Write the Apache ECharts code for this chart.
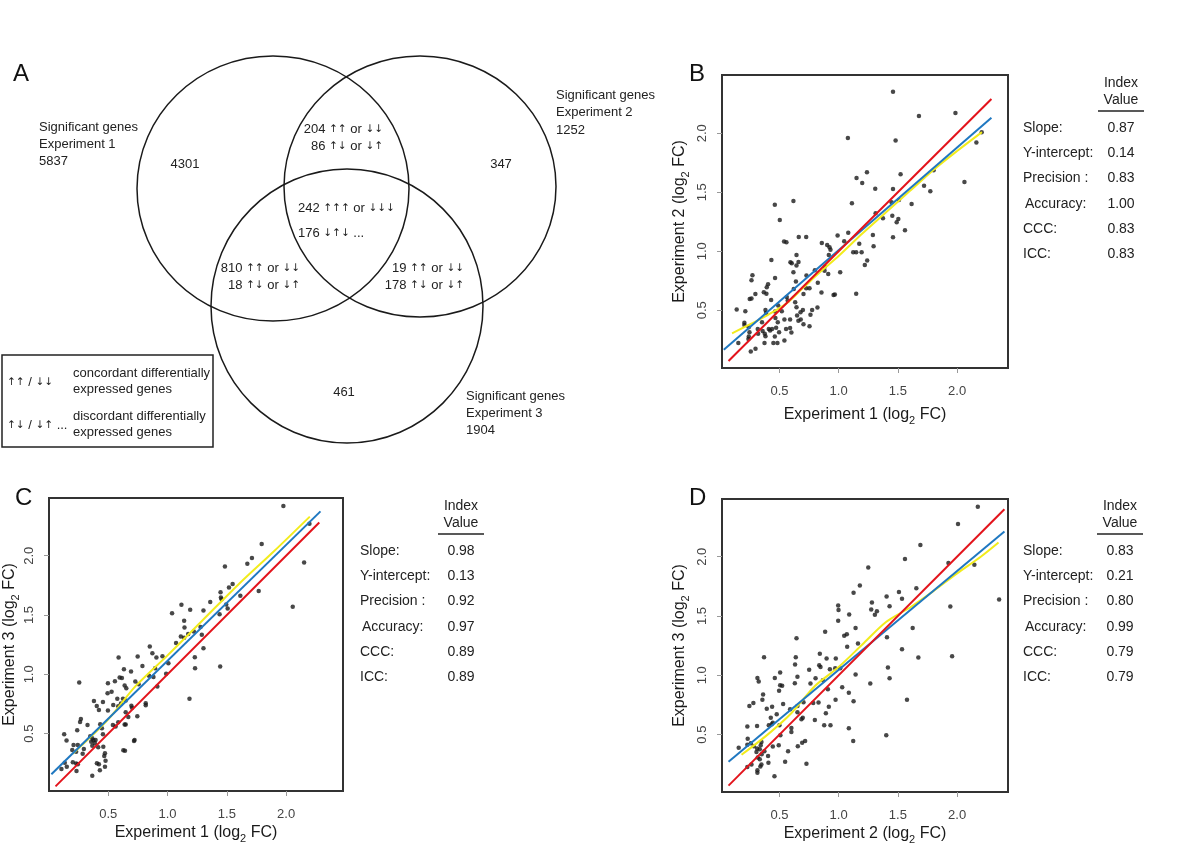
<!DOCTYPE html>
<html><head><meta charset="utf-8">
<script src="https://cdn.jsdelivr.net/npm/echarts@6/dist/echarts.min.js"></script>
<style>html,body{margin:0;padding:0;background:#fff}#c{width:1200px;height:849px}</style>
</head><body><div id="c"></div>
<script>
// ---------------- Panel A (Venn) ----------------
const vennCircles = [ // cx, cy, rx, ry (diagram units)
  [273, 188.5, 136, 132.5],
  [420, 186.5, 136, 130.5],
  [347, 306, 136, 137]
];
const vennLabels = [ // x, y, text, align
  [39,127,'Significant genes','left'],[39,144,'Experiment 1','left'],[39,161,'5837','left'],
  [556,95,'Significant genes','left'],[556,112,'Experiment 2','left'],[556,130,'1252','left'],
  [466,396,'Significant genes','left'],[466,413,'Experiment 3','left'],[466,430,'1904','left'],
  [185,164,'4301','center'],[501,164,'347','center'],[344,392,'461','center'],
  [383,129,'204 ↑↑ or ↓↓','right'],[383,146,'86 ↑↓ or ↓↑','right'],
  [298,208,'242 ↑↑↑ or ↓↓↓','left'],[298,233,'176 ↓↑↓ ...','left'],
  [300,268,'810 ↑↑ or ↓↓','right'],[300,285,'18 ↑↓ or ↓↑','right'],
  [464,268,'19 ↑↑ or ↓↓','right'],[464,285,'178 ↑↓ or ↓↑','right']
];
const legendSymbols = ['↑↑ / ↓↓', '↑↓ / ↓↑ ...'];
const legendTexts = [['concordant differentially','expressed genes'],['discordant differentially','expressed genes']];

// ---------------- Scatter panels ----------------
const tickValues = [0.5, 1.0, 1.5, 2.0];
const indexNames = ['Slope:', 'Y-intercept:', 'Precision :', 'Accuracy:', 'CCC:', 'ICC:'];
const valuesB = ['0.87','0.14','0.83','1.00','0.83','0.83'];
const valuesC = ['0.98','0.13','0.92','0.97','0.89','0.89'];
const valuesD = ['0.83','0.21','0.80','0.99','0.79','0.79'];

const pointsB = [
[1.459,2.353],[1.678,2.147],[1.986,2.172],[1.078,1.960],[1.481,1.938],[2.163,1.921],[2.208,2.008],
[1.802,1.686],[2.062,1.588],[1.151,1.621],[1.239,1.669],[1.199,1.579],[1.523,1.653],[1.309,1.531],
[1.459,1.528],[1.721,1.556],[1.774,1.508],[1.509,1.435],[1.447,1.415],[1.112,1.407],[1.616,1.401],
[0.461,1.395],[0.618,1.427],[0.503,1.266],[1.312,1.322],[1.374,1.280],[1.453,1.302],[1.504,1.274],
[1.490,1.246],[1.560,1.178],[1.289,1.138],[1.459,1.119],[1.295,1.042],[1.081,1.158],[0.991,1.133],
[1.047,1.085],[1.174,1.065],[1.123,0.992],[1.148,0.992],[1.194,0.992],[1.241,0.921],[1.221,0.884],
[1.013,0.822],[1.148,0.641],[0.539,1.082],[0.559,1.076],[0.663,1.121],[0.726,1.121],[0.858,1.071],
[0.903,1.054],[0.923,1.034],[0.931,1.014],[0.917,0.969],[0.883,0.870],[0.881,0.836],[0.912,0.808],
[0.799,0.839],[0.644,0.969],[0.593,0.907],[0.604,0.898],[0.661,0.910],[0.644,0.879],[0.618,0.822],
[0.728,0.794],[0.639,0.743],[0.432,0.927],[0.463,0.774],[0.404,0.720],[0.393,0.695],[0.368,0.653],
[0.390,0.641],[0.272,0.797],[0.264,0.754],[0.297,0.638],[0.249,0.596],[0.264,0.599],[0.430,0.588],
[0.562,0.613],[0.621,0.681],[0.703,0.638],[0.726,0.686],[0.754,0.686],[0.824,0.734],[0.855,0.650],
[0.957,0.630],[0.968,0.633],[0.633,0.568],[0.570,0.582],[0.139,0.506],[0.212,0.492],[0.489,0.540],
[0.520,0.492],[0.463,0.489],[0.387,0.477],[0.644,0.525],[0.698,0.503],[0.776,0.503],[0.821,0.523],
[0.204,0.395],[0.204,0.376],[0.241,0.356],[0.247,0.314],[0.241,0.277],[0.238,0.257],[0.153,0.223],
[0.258,0.150],[0.298,0.175],[0.320,0.302],[0.353,0.398],[0.358,0.325],[0.376,0.302],[0.382,0.280],
[0.374,0.223],[0.410,0.342],[0.421,0.328],[0.438,0.342],[0.461,0.277],[0.449,0.223],[0.483,0.223],
[0.472,0.353],[0.486,0.398],[0.497,0.314],[0.466,0.435],[0.542,0.421],[0.542,0.243],[0.556,0.342],
[0.590,0.421],[0.590,0.350],[0.601,0.311],[0.649,0.455],[0.660,0.412],[0.680,0.421],[0.703,0.381],
[0.754,0.364],[0.762,0.463],[0.678,0.483],[0.382,0.503],[0.317,0.342]
];
const identityB = [[0.07,0.07],[2.29,2.29]];
const regressionB = [[0.03,0.166],[2.29,2.132]];
const smoothB = [[0.10,0.305],[0.25,0.38],[0.40,0.46],[0.55,0.55],[0.70,0.69],[0.85,0.83],[1.0,0.96],
  [1.2,1.15],[1.4,1.33],[1.6,1.51],[1.8,1.69],[2.0,1.85],[2.21,2.01]];

const pointsC = [
[1.977,2.419],[2.197,2.270],[2.152,1.944],[2.056,1.569],[1.794,2.099],[1.712,1.980],[1.673,1.932],
[1.484,1.910],[1.549,1.761],[1.518,1.733],[1.447,1.693],[1.450,1.648],[1.456,1.634],[1.614,1.662],
[1.769,1.702],[1.495,1.589],[1.507,1.555],[1.439,1.507],[1.191,1.544],[1.303,1.538],[1.360,1.609],
[1.117,1.586],[1.038,1.516],[1.140,1.451],[1.143,1.395],[1.112,1.319],[1.140,1.308],[1.174,1.339],
[1.222,1.361],[1.278,1.400],[1.289,1.333],[1.303,1.220],[1.072,1.265],[1.185,0.793],[1.230,1.144],
[1.232,1.052],[1.444,1.066],[1.007,1.094],[0.988,1.004],[0.957,1.153],[0.906,1.142],[0.872,1.178],
[0.850,1.234],[0.788,1.071],[0.914,0.897],[0.881,0.978],[0.895,1.052],[0.844,0.987],[0.748,1.150],
[0.587,1.142],[0.632,1.043],[0.692,1.023],[0.596,0.973],[0.615,0.970],[0.556,0.942],[0.497,0.925],
[0.638,0.905],[0.652,0.883],[0.728,0.939],[0.756,0.916],[0.494,0.840],[0.528,0.854],[0.576,0.793],
[0.624,0.793],[0.647,0.779],[0.542,0.742],[0.584,0.731],[0.607,0.753],[0.695,0.736],[0.700,0.719],
[0.816,0.756],[0.816,0.739],[0.745,0.646],[0.647,0.680],[0.669,0.641],[0.638,0.576],[0.647,0.576],
[0.379,0.776],[0.403,0.733],[0.421,0.700],[0.455,0.767],[0.497,0.694],[0.539,0.573],[0.562,0.559],
[0.584,0.596],[0.255,0.930],[0.269,0.624],[0.262,0.598],[0.238,0.528],[0.325,0.573],[0.432,0.579],
[0.446,0.545],[0.455,0.494],[0.348,0.477],[0.365,0.460],[0.374,0.444],[0.393,0.446],[0.356,0.432],
[0.387,0.418],[0.458,0.390],[0.415,0.384],[0.365,0.398],[0.128,0.494],[0.148,0.441],[0.207,0.404],
[0.243,0.404],[0.196,0.362],[0.294,0.370],[0.229,0.348],[0.284,0.331],[0.133,0.255],[0.105,0.202],
[0.150,0.221],[0.201,0.258],[0.229,0.247],[0.243,0.241],[0.232,0.185],[0.365,0.145],[0.404,0.249],
[0.421,0.241],[0.429,0.190],[0.472,0.334],[0.466,0.311],[0.477,0.272],[0.472,0.221],[0.717,0.438],
[0.722,0.446],[0.627,0.359],[0.641,0.356]
];
const identityC = [[0.055,0.055],[2.28,2.28]];
const regressionC = [[0.02,0.157],[2.29,2.374]];
const smoothC = [[0.20,0.33],[0.5,0.62],[0.73,0.90],[1.0,1.16],[1.3,1.46],[1.6,1.76],[1.9,2.04],[2.2,2.33]];

const pointsD = [
[2.175,2.422],[2.008,2.276],[1.690,2.099],[1.560,1.980],[1.250,1.910],[1.927,1.947],[2.146,1.932],
[1.179,1.758],[1.126,1.696],[1.656,1.735],[1.509,1.702],[1.405,1.665],[1.535,1.645],[1.430,1.583],
[1.281,1.614],[1.275,1.555],[1.323,1.541],[1.306,1.510],[0.996,1.589],[0.999,1.550],[1.089,1.513],
[0.996,1.460],[1.943,1.581],[2.355,1.640],[0.886,1.367],[1.143,1.400],[1.047,1.333],[1.069,1.347],
[1.625,1.400],[1.408,1.322],[0.644,1.313],[1.163,1.268],[1.072,1.240],[1.535,1.220],[1.958,1.161],
[1.673,1.150],[0.370,1.153],[0.638,1.153],[0.632,1.091],[0.841,1.181],[0.898,1.142],[0.976,1.142],
[0.751,1.046],[0.836,1.085],[0.847,1.071],[0.926,1.052],[0.971,1.060],[1.013,1.060],[1.416,1.066],
[1.143,1.006],[1.430,0.976],[0.652,0.987],[0.314,0.978],[0.325,0.947],[0.461,0.978],[0.506,1.023],
[0.805,0.976],[0.867,0.959],[0.762,0.930],[0.630,0.933],[0.506,0.916],[0.523,0.911],[0.497,0.869],
[1.030,0.900],[1.086,0.852],[1.267,0.930],[0.909,0.883],[0.974,0.793],[1.126,0.781],[1.577,0.793],
[0.362,0.838],[0.356,0.793],[0.246,0.742],[0.280,0.767],[0.393,0.719],[0.438,0.736],[0.531,0.759],
[0.652,0.742],[0.703,0.773],[0.785,0.767],[0.830,0.770],[0.917,0.736],[0.652,0.688],[0.477,0.672],
[0.427,0.643],[0.697,0.643],[0.686,0.629],[0.799,0.624],[0.892,0.680],[0.931,0.579],[0.878,0.579],
[0.590,0.714],[0.410,0.579],[0.435,0.587],[0.444,0.601],[0.500,0.579],[0.601,0.556],[0.601,0.522],
[0.508,0.494],[0.311,0.573],[0.229,0.568],[0.232,0.466],[0.156,0.390],[0.229,0.415],[0.258,0.427],
[0.283,0.401],[0.311,0.382],[0.348,0.438],[0.342,0.410],[0.334,0.376],[0.306,0.354],[0.373,0.359],
[0.350,0.334],[0.317,0.306],[0.334,0.292],[0.404,0.320],[0.407,0.263],[0.444,0.399],[0.494,0.410],
[0.655,0.401],[0.573,0.359],[0.692,0.432],[0.717,0.446],[0.548,0.272],[0.229,0.227],[0.264,0.247],
[0.314,0.199],[0.314,0.179],[0.339,0.230],[0.348,0.247],[0.458,0.148],[0.728,0.255],[1.086,0.553],
[1.123,0.446],[1.402,0.494]
];
const identityD = [[0.07,0.07],[2.40,2.40]];
const regressionD = [[0.07,0.271],[2.40,2.213]];
const smoothD = [[0.18,0.33],[0.4,0.50],[0.6,0.68],[0.8,0.91],[1.0,1.07],[1.2,1.26],[1.4,1.45],
  [1.6,1.57],[1.8,1.71],[2.0,1.86],[2.2,2.0],[2.35,2.12]];

const xTitles = ['Experiment 1', 'Experiment 1', 'Experiment 2'];
const yTitles = ['Experiment 2', 'Experiment 3', 'Experiment 3'];

// ---------------- layout ----------------
const FONT = '"Liberation Sans", Arial, Helvetica, sans-serif';
const ARROW_RICH = {r:{fontFamily:'"DejaVu Sans", sans-serif', fontSize:10.5, fill:'#222', color:'#222'}};
function withArrows(t){ return t.replace(/[↑↓]+/g, m => '{r|' + m + '}'); }

const panels = [
  {grid:{left:722, top:75, width:286, height:293}, x:[0.015,2.43], y:[0.011,2.494], xGap:36, yGap:31,
   pts:pointsB, id:identityB, rg:regressionB, sm:smoothB, vals:valuesB, tx:1023, tv:1121, ty:83, letter:['B',689,74]},
  {grid:{left:49, top:498, width:294, height:293}, x:[0.0,2.48], y:[0.016,2.487], xGap:31, yGap:28,
   pts:pointsC, id:identityC, rg:regressionC, sm:smoothC, vals:valuesC, tx:360, tv:461, ty:506, letter:['C',15,498]},
  {grid:{left:722, top:499, width:286, height:293}, x:[0.015,2.43], y:[0.016,2.487], xGap:31, yGap:31,
   pts:pointsD, id:identityD, rg:regressionD, sm:smoothD, vals:valuesD, tx:1023, tv:1120, ty:506, letter:['D',689,498]}
];

const grids = [{left:0, top:0, width:1200, height:849, show:false}];
const xAxes = [{type:'value', gridIndex:0, min:0, max:1200, show:false}];
const yAxes = [{type:'value', gridIndex:0, min:0, max:849, inverse:true, show:false}];
const series = [];
const graphics = [];

function richTitle(t){ return '{a|' + t + ' (log}{s|2}{a| FC)}'; }
const richStyle = {
  a:{fontSize:16, fontFamily:FONT, color:'#1a1a1a', lineHeight:22},
  s:{fontSize:11, fontFamily:FONT, color:'#1a1a1a', lineHeight:22, verticalAlign:'bottom'}
};

panels.forEach((p, i) => {
  const gi = i + 1;
  grids.push(Object.assign({show:true, borderColor:'#333', borderWidth:2, backgroundColor:'#fff'}, p.grid));
  const common = {
    type:'value', gridIndex:gi, axisLine:{show:false}, splitLine:{show:false},
    axisTick:{show:true, customValues:tickValues, length:5, lineStyle:{color:'#999', width:1}},
    nameLocation:'middle'
  };
  xAxes.push(Object.assign({}, common, {
    min:p.x[0], max:p.x[1],
    axisLabel:{customValues:tickValues, formatter:v=>v.toFixed(1), color:'#444', fontSize:13, fontFamily:FONT, margin:17},
    name:richTitle(xTitles[i]), nameGap:p.xGap, nameTextStyle:{rich:richStyle}
  }));
  yAxes.push(Object.assign({}, common, {
    min:p.y[0], max:p.y[1],
    axisLabel:{customValues:tickValues, formatter:v=>v.toFixed(1), color:'#444', fontSize:13, fontFamily:FONT, margin:13, rotate:90},
    name:richTitle(yTitles[i]), nameGap:p.yGap, nameTextStyle:{rich:richStyle}
  }));
  series.push({type:'scatter', xAxisIndex:gi, yAxisIndex:gi, data:p.pts, symbolSize:4.5,
    itemStyle:{color:'#1a1a1a'}, silent:true, z:2});
  series.push({type:'line', xAxisIndex:gi, yAxisIndex:gi, data:p.sm, showSymbol:false, smooth:0.3,
    lineStyle:{color:'#f2ec1c', width:2}, silent:true, z:3});
  series.push({type:'line', xAxisIndex:gi, yAxisIndex:gi, data:p.rg, showSymbol:false,
    lineStyle:{color:'#1f78c1', width:2}, silent:true, z:4});
  series.push({type:'line', xAxisIndex:gi, yAxisIndex:gi, data:p.id, showSymbol:false,
    lineStyle:{color:'#e3131b', width:2}, silent:true, z:5});

  // index table
  graphics.push({type:'text', x:p.tv, y:p.ty, style:{text:'Index', font:'14px '+FONT, fill:'#222', align:'center', verticalAlign:'middle'}});
  graphics.push({type:'text', x:p.tv, y:p.ty+17, style:{text:'Value', font:'14px '+FONT, fill:'#222', align:'center', verticalAlign:'middle'}});
  graphics.push({type:'line', shape:{x1:p.tv-23, y1:p.ty+28, x2:p.tv+23, y2:p.ty+28}, style:{stroke:'#222', lineWidth:1.5}});
  indexNames.forEach((n, k) => {
    const y = p.ty + 45 + k * 25.3;
    graphics.push({type:'text', x:p.tx + (n === 'Accuracy:' ? 2 : 0), y, style:{text:n, font:'14px '+FONT, fill:'#222', align:'left', verticalAlign:'middle'}});
    graphics.push({type:'text', x:p.tv, y, style:{text:p.vals[k], font:'14px '+FONT, fill:'#222', align:'center', verticalAlign:'middle'}});
  });
  graphics.push({type:'text', x:p.letter[1], y:p.letter[2], style:{text:p.letter[0], font:'24px '+FONT, fill:'#111', align:'left', verticalAlign:'middle'}});
});

// Venn circles
series.push({type:'custom', xAxisIndex:0, yAxisIndex:0, data:vennCircles, silent:true, z:1,
  renderItem:(params, api) => {
    const c = api.coord([api.value(0), api.value(1)]);
    const s = api.size([api.value(2), api.value(3)]);
    return {type:'ellipse', shape:{cx:c[0], cy:c[1], rx:s[0], ry:s[1]}, style:{fill:null, stroke:'#1a1a1a', lineWidth:1.5}};
  }});
// Venn labels
series.push({type:'custom', xAxisIndex:0, yAxisIndex:0, data:vennLabels.map(d=>[d[0],d[1]]), silent:true, z:2,
  renderItem:(params, api) => {
    const d = vennLabels[params.dataIndex];
    const c = api.coord([api.value(0), api.value(1)]);
    return {type:'text', x:c[0], y:c[1], style:{text:withArrows(d[2]), rich:ARROW_RICH, font:'13px '+FONT, fill:'#222', align:d[3], verticalAlign:'middle'}};
  }});

// Panel A letter and legend box
graphics.push({type:'text', x:13, y:74, style:{text:'A', font:'24px '+FONT, fill:'#111', align:'left', verticalAlign:'middle'}});
graphics.push({type:'rect', shape:{x:2, y:355, width:211, height:92}, style:{fill:'none', stroke:'#222', lineWidth:1.5}});
legendSymbols.forEach((s, k) => {
  const yc = k === 0 ? 382 : 425;
  graphics.push({type:'text', x:7, y:yc, style:{text:withArrows(s), rich:ARROW_RICH, font:'13px '+FONT, fill:'#222', align:'left', verticalAlign:'middle'}});
  graphics.push({type:'text', x:73, y:yc-8.5, style:{text:legendTexts[k][0], font:'13px '+FONT, fill:'#222', align:'left', verticalAlign:'middle'}});
  graphics.push({type:'text', x:73, y:yc+7.5, style:{text:legendTexts[k][1], font:'13px '+FONT, fill:'#222', align:'left', verticalAlign:'middle'}});
});

const chart = echarts.init(document.getElementById('c'), null, {renderer:'canvas'});
chart.setOption({
  animation:false, backgroundColor:'#fff',
  grid:grids, xAxis:xAxes, yAxis:yAxes, series:series, graphic:graphics
});
</script></body></html>
